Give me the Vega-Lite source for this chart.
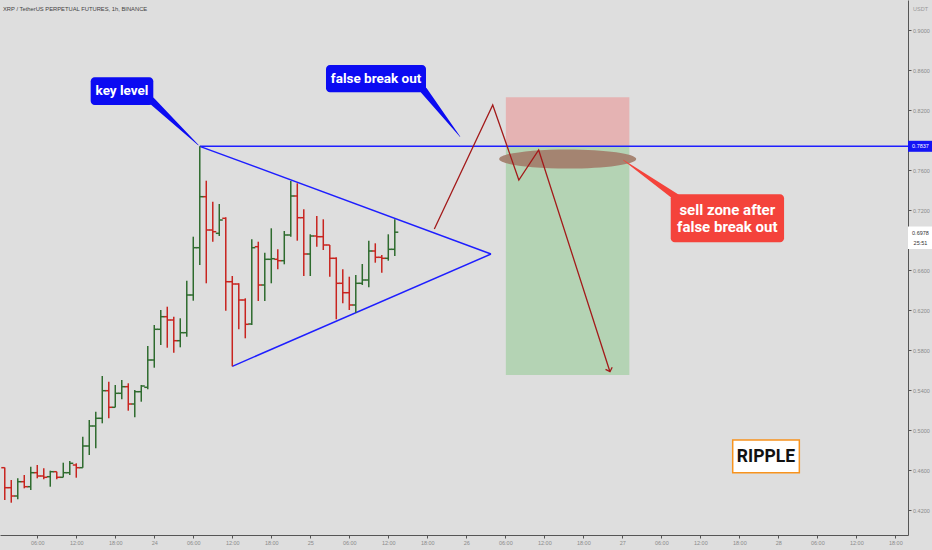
{
  "$schema": "https://vega.github.io/schema/vega-lite/v6.json",
  "width": 908,
  "height": 535,
  "autosize": "none",
  "padding": {"left": 0, "top": 0, "right": 24, "bottom": 15},
  "background": "#dedede",
  "title": {"text": "XRP / TetherUS PERPETUAL FUTURES, 1h, BINANCE", "anchor": "start", "frame": "group", "fontSize": 5.8, "fontWeight": "normal", "color": "#444444", "font": "Liberation Sans", "offset": 0, "dx": 3, "dy": 12},
  "config": {"view": {"stroke": null}, "axis": {"grid": false}},
  "datasets": {
    "candles": [
      {"t": "2020-11-23T01:00:00Z", "o": 0.4623, "h": 0.4625, "l": 0.4300, "c": 0.4423},
      {"t": "2020-11-23T02:00:00Z", "o": 0.4423, "h": 0.4500, "l": 0.4273, "c": 0.4340},
      {"t": "2020-11-23T03:00:00Z", "o": 0.4340, "h": 0.4517, "l": 0.4307, "c": 0.4483},
      {"t": "2020-11-23T04:00:00Z", "o": 0.4483, "h": 0.4550, "l": 0.4417, "c": 0.4433},
      {"t": "2020-11-23T05:00:00Z", "o": 0.4433, "h": 0.4633, "l": 0.4400, "c": 0.4573},
      {"t": "2020-11-23T06:00:00Z", "o": 0.4573, "h": 0.4650, "l": 0.4517, "c": 0.4540},
      {"t": "2020-11-23T07:00:00Z", "o": 0.4540, "h": 0.4617, "l": 0.4507, "c": 0.4527},
      {"t": "2020-11-23T08:00:00Z", "o": 0.4533, "h": 0.4593, "l": 0.4433, "c": 0.4583},
      {"t": "2020-11-23T09:00:00Z", "o": 0.4583, "h": 0.4583, "l": 0.4507, "c": 0.4527},
      {"t": "2020-11-23T10:00:00Z", "o": 0.4527, "h": 0.4673, "l": 0.4527, "c": 0.4573},
      {"t": "2020-11-23T11:00:00Z", "o": 0.4573, "h": 0.4690, "l": 0.4550, "c": 0.4667},
      {"t": "2020-11-23T12:00:00Z", "o": 0.4650, "h": 0.4667, "l": 0.4523, "c": 0.4623},
      {"t": "2020-11-23T13:00:00Z", "o": 0.4623, "h": 0.4933, "l": 0.4623, "c": 0.4840},
      {"t": "2020-11-23T14:00:00Z", "o": 0.4840, "h": 0.5100, "l": 0.4750, "c": 0.5040},
      {"t": "2020-11-23T15:00:00Z", "o": 0.5040, "h": 0.5183, "l": 0.4817, "c": 0.5117},
      {"t": "2020-11-23T16:00:00Z", "o": 0.5117, "h": 0.5540, "l": 0.5067, "c": 0.5393},
      {"t": "2020-11-23T17:00:00Z", "o": 0.5393, "h": 0.5483, "l": 0.5117, "c": 0.5227},
      {"t": "2020-11-23T18:00:00Z", "o": 0.5227, "h": 0.5450, "l": 0.5227, "c": 0.5367},
      {"t": "2020-11-23T19:00:00Z", "o": 0.5367, "h": 0.5500, "l": 0.5307, "c": 0.5433},
      {"t": "2020-11-23T20:00:00Z", "o": 0.5433, "h": 0.5467, "l": 0.5193, "c": 0.5260},
      {"t": "2020-11-23T21:00:00Z", "o": 0.5260, "h": 0.5400, "l": 0.5127, "c": 0.5383},
      {"t": "2020-11-23T22:00:00Z", "o": 0.5383, "h": 0.5450, "l": 0.5283, "c": 0.5440},
      {"t": "2020-11-23T23:00:00Z", "o": 0.5427, "h": 0.5840, "l": 0.5407, "c": 0.5700},
      {"t": "2020-11-24T00:00:00Z", "o": 0.5700, "h": 0.6050, "l": 0.5623, "c": 0.6007},
      {"t": "2020-11-24T01:00:00Z", "o": 0.6007, "h": 0.6200, "l": 0.5850, "c": 0.6133},
      {"t": "2020-11-24T02:00:00Z", "o": 0.6133, "h": 0.6233, "l": 0.5823, "c": 0.6100},
      {"t": "2020-11-24T03:00:00Z", "o": 0.6100, "h": 0.6133, "l": 0.5773, "c": 0.5893},
      {"t": "2020-11-24T04:00:00Z", "o": 0.5893, "h": 0.6117, "l": 0.5827, "c": 0.5973},
      {"t": "2020-11-24T05:00:00Z", "o": 0.5973, "h": 0.6493, "l": 0.5933, "c": 0.6350},
      {"t": "2020-11-24T06:00:00Z", "o": 0.6350, "h": 0.6933, "l": 0.6293, "c": 0.6823},
      {"t": "2020-11-24T07:00:00Z", "o": 0.6823, "h": 0.7837, "l": 0.6650, "c": 0.7333},
      {"t": "2020-11-24T08:00:00Z", "o": 0.7333, "h": 0.7493, "l": 0.6467, "c": 0.7000},
      {"t": "2020-11-24T09:00:00Z", "o": 0.7000, "h": 0.7283, "l": 0.6883, "c": 0.6983},
      {"t": "2020-11-24T10:00:00Z", "o": 0.6967, "h": 0.7260, "l": 0.6940, "c": 0.7100},
      {"t": "2020-11-24T11:00:00Z", "o": 0.7117, "h": 0.7127, "l": 0.6193, "c": 0.6483},
      {"t": "2020-11-24T12:00:00Z", "o": 0.6483, "h": 0.6540, "l": 0.5637, "c": 0.6460},
      {"t": "2020-11-24T13:00:00Z", "o": 0.6460, "h": 0.6467, "l": 0.6007, "c": 0.6300},
      {"t": "2020-11-24T14:00:00Z", "o": 0.6300, "h": 0.6317, "l": 0.5917, "c": 0.6057},
      {"t": "2020-11-24T15:00:00Z", "o": 0.6060, "h": 0.6907, "l": 0.6050, "c": 0.6823},
      {"t": "2020-11-24T16:00:00Z", "o": 0.6833, "h": 0.6883, "l": 0.6290, "c": 0.6450},
      {"t": "2020-11-24T17:00:00Z", "o": 0.6450, "h": 0.6773, "l": 0.6290, "c": 0.6707},
      {"t": "2020-11-24T18:00:00Z", "o": 0.6707, "h": 0.7017, "l": 0.6467, "c": 0.6713},
      {"t": "2020-11-24T19:00:00Z", "o": 0.6707, "h": 0.6807, "l": 0.6607, "c": 0.6693},
      {"t": "2020-11-24T20:00:00Z", "o": 0.6693, "h": 0.6990, "l": 0.6657, "c": 0.6950},
      {"t": "2020-11-24T21:00:00Z", "o": 0.6950, "h": 0.7490, "l": 0.6933, "c": 0.7340},
      {"t": "2020-11-24T22:00:00Z", "o": 0.7340, "h": 0.7467, "l": 0.6893, "c": 0.7123},
      {"t": "2020-11-24T23:00:00Z", "o": 0.7123, "h": 0.7207, "l": 0.6540, "c": 0.6760},
      {"t": "2020-11-25T00:00:00Z", "o": 0.6760, "h": 0.6957, "l": 0.6540, "c": 0.6940},
      {"t": "2020-11-25T01:00:00Z", "o": 0.6940, "h": 0.7140, "l": 0.6833, "c": 0.6933},
      {"t": "2020-11-25T02:00:00Z", "o": 0.6933, "h": 0.7107, "l": 0.6800, "c": 0.6850},
      {"t": "2020-11-25T03:00:00Z", "o": 0.6850, "h": 0.6850, "l": 0.6533, "c": 0.6717},
      {"t": "2020-11-25T04:00:00Z", "o": 0.6717, "h": 0.6727, "l": 0.6107, "c": 0.6467},
      {"t": "2020-11-25T05:00:00Z", "o": 0.6467, "h": 0.6607, "l": 0.6267, "c": 0.6373},
      {"t": "2020-11-25T06:00:00Z", "o": 0.6373, "h": 0.6533, "l": 0.6200, "c": 0.6250},
      {"t": "2020-11-25T07:00:00Z", "o": 0.6250, "h": 0.6550, "l": 0.6173, "c": 0.6467},
      {"t": "2020-11-25T08:00:00Z", "o": 0.6467, "h": 0.6660, "l": 0.6450, "c": 0.6500},
      {"t": "2020-11-25T09:00:00Z", "o": 0.6500, "h": 0.6893, "l": 0.6427, "c": 0.6790},
      {"t": "2020-11-25T10:00:00Z", "o": 0.6790, "h": 0.6867, "l": 0.6673, "c": 0.6727},
      {"t": "2020-11-25T11:00:00Z", "o": 0.6727, "h": 0.6750, "l": 0.6573, "c": 0.6717},
      {"t": "2020-11-25T12:00:00Z", "o": 0.6717, "h": 0.6957, "l": 0.6693, "c": 0.6807},
      {"t": "2020-11-25T13:00:00Z", "o": 0.6807, "h": 0.7107, "l": 0.6740, "c": 0.6978}
    ],
    "zones": [
      {"kind": "risk", "t1": "2020-11-26T06:05:00Z", "t2": "2020-11-27T01:05:00Z", "p1": 0.8327, "p2": 0.7843},
      {"kind": "reward", "t1": "2020-11-26T06:05:00Z", "t2": "2020-11-27T01:05:00Z", "p1": 0.7843, "p2": 0.5550}
    ],
    "bluelines": [
      {"seg": "key", "t": "2020-11-24T07:00:00Z", "p": 0.7837},
      {"seg": "key", "t": "2020-11-28T19:57:00Z", "p": 0.7837},
      {"seg": "upper", "t": "2020-11-24T07:00:00Z", "p": 0.7837},
      {"seg": "upper", "t": "2020-11-26T03:48:00Z", "p": 0.6760},
      {"seg": "lower", "t": "2020-11-24T12:00:00Z", "p": 0.5637},
      {"seg": "lower", "t": "2020-11-26T03:48:00Z", "p": 0.6760}
    ],
    "path": [
      {"i": 1, "t": "2020-11-25T19:05:00Z", "p": 0.7010},
      {"i": 2, "t": "2020-11-26T04:04:00Z", "p": 0.8250},
      {"i": 3, "t": "2020-11-26T08:05:00Z", "p": 0.7500},
      {"i": 4, "t": "2020-11-26T11:08:00Z", "p": 0.7800},
      {"i": 5, "t": "2020-11-26T22:06:00Z", "p": 0.5583}
    ],
    "arrow": [{"t": "2020-11-26T22:06:00Z", "p": 0.5583}],
    "ellipse": [{"t": "2020-11-26T15:36:00Z", "p": 0.7710}],
    "tails": [
      {"id": "key", "t": "2020-11-23T23:39:00Z", "p": 0.8290, "w": 1},
      {"id": "key", "t": "2020-11-24T06:46:00Z", "p": 0.7850, "w": 0},
      {"id": "false", "t": "2020-11-25T17:29:00Z", "p": 0.8395, "w": 1},
      {"id": "false", "t": "2020-11-25T23:02:00Z", "p": 0.7933, "w": 0},
      {"id": "sell", "t": "2020-11-27T08:16:00Z", "p": 0.7330, "w": 1},
      {"id": "sell", "t": "2020-11-27T00:09:00Z", "p": 0.7700, "w": 0}
    ],
    "boxes": [
      {"id": "key", "t1": "2020-11-23T14:13:00Z", "t2": "2020-11-23T23:51:00Z", "p1": 0.8527, "p2": 0.8250},
      {"id": "false", "t1": "2020-11-25T02:25:00Z", "t2": "2020-11-25T17:48:00Z", "p1": 0.8650, "p2": 0.8377},
      {"id": "sell", "t1": "2020-11-27T07:27:00Z", "t2": "2020-11-28T00:53:00Z", "p1": 0.7357, "p2": 0.6877}
    ],
    "texts": [
      {"id": "key", "text": "key level", "t": "2020-11-23T19:02:00Z", "p": 0.8390},
      {"id": "false", "text": "false break out", "t": "2020-11-25T10:07:00Z", "p": 0.8513},
      {"id": "sell", "text": "sell zone after", "t": "2020-11-27T16:09:00Z", "p": 0.7203},
      {"id": "sell", "text": "false break out", "t": "2020-11-27T16:09:00Z", "p": 0.7027}
    ],
    "ripplebox": [{"t1": "2020-11-27T16:59:00Z", "t2": "2020-11-28T03:14:00Z", "p1": 0.4900, "p2": 0.4573}],
    "rippletext": [{"text": "RIPPLE", "t": "2020-11-27T22:06:00Z", "p": 0.4735}],
    "pricebox": [
      {"id": "last", "t1": "2020-11-28T19:57:00Z", "t2": "2020-11-28T23:50:00Z", "p1": 0.7892, "p2": 0.7782},
      {"id": "now", "t1": "2020-11-28T19:57:00Z", "t2": "2020-11-28T23:50:00Z", "p1": 0.7035, "p2": 0.6810}
    ],
    "pricetext": [
      {"id": "last", "text": "0.7837", "t": "2020-11-28T21:52:00Z", "p": 0.7837},
      {"id": "now", "text": "0.6978", "t": "2020-11-28T21:52:00Z", "p": 0.6975},
      {"id": "now", "text": "25:51", "t": "2020-11-28T21:52:00Z", "p": 0.6867}
    ]
  },
  "layer": [
    {
      "data": {"name": "zones"},
      "mark": {"type": "rect"},
      "encoding": {
        "x": {"field": "t1", "type": "temporal",
          "scale": {"type": "utc", "domain": [{"year": 2020, "month": 11, "date": 23, "hours": 0, "minutes": 16, "utc": true}, {"year": 2020, "month": 11, "date": 28, "hours": 19, "minutes": 57, "utc": true}]},
          "axis": {"title": "", "orient": "bottom",
            "values": [
              {"year": 2020, "month": 11, "date": 23, "hours": 6, "utc": true},
              {"year": 2020, "month": 11, "date": 23, "hours": 12, "utc": true},
              {"year": 2020, "month": 11, "date": 23, "hours": 18, "utc": true},
              {"year": 2020, "month": 11, "date": 24, "hours": 0, "utc": true},
              {"year": 2020, "month": 11, "date": 24, "hours": 6, "utc": true},
              {"year": 2020, "month": 11, "date": 24, "hours": 12, "utc": true},
              {"year": 2020, "month": 11, "date": 24, "hours": 18, "utc": true},
              {"year": 2020, "month": 11, "date": 25, "hours": 0, "utc": true},
              {"year": 2020, "month": 11, "date": 25, "hours": 6, "utc": true},
              {"year": 2020, "month": 11, "date": 25, "hours": 12, "utc": true},
              {"year": 2020, "month": 11, "date": 25, "hours": 18, "utc": true},
              {"year": 2020, "month": 11, "date": 26, "hours": 0, "utc": true},
              {"year": 2020, "month": 11, "date": 26, "hours": 6, "utc": true},
              {"year": 2020, "month": 11, "date": 26, "hours": 12, "utc": true},
              {"year": 2020, "month": 11, "date": 26, "hours": 18, "utc": true},
              {"year": 2020, "month": 11, "date": 27, "hours": 0, "utc": true},
              {"year": 2020, "month": 11, "date": 27, "hours": 6, "utc": true},
              {"year": 2020, "month": 11, "date": 27, "hours": 12, "utc": true},
              {"year": 2020, "month": 11, "date": 27, "hours": 18, "utc": true},
              {"year": 2020, "month": 11, "date": 28, "hours": 0, "utc": true},
              {"year": 2020, "month": 11, "date": 28, "hours": 6, "utc": true},
              {"year": 2020, "month": 11, "date": 28, "hours": 12, "utc": true},
              {"year": 2020, "month": 11, "date": 28, "hours": 18, "utc": true}
            ],
            "labelExpr": "utcFormat(datum.value, '%H:%M') == '00:00' ? utcFormat(datum.value, '%d') : utcFormat(datum.value, '%H:%M')",
            "domainColor": "#555555", "domainWidth": 1, "tickColor": "#555555", "tickSize": 3, "labelFontSize": 5.5, "labelColor": "#8a8a8a", "labelPadding": 2, "labelFlush": false, "labelOverlap": false, "labelFont": "Liberation Sans"}},
        "x2": {"field": "t2"},
        "y": {"field": "p1", "type": "quantitative",
          "scale": {"domain": [0.395, 0.93], "zero": false, "nice": false},
          "axis": {"title": "USDT", "orient": "right", "titleAngle": 0, "titleX": 12, "titleY": 8, "titleAlign": "center", "titleBaseline": "middle", "titleFontSize": 5.5, "titleFontWeight": "normal", "titleColor": "#999999", "titleFont": "Liberation Sans",
            "values": [0.42, 0.44, 0.46, 0.48, 0.5, 0.52, 0.54, 0.56, 0.58, 0.6, 0.62, 0.64, 0.66, 0.68, 0.72, 0.74, 0.76, 0.8, 0.82, 0.84, 0.86, 0.88, 0.9],
            "format": ".4f", "domainColor": "#555555", "tickColor": "#555555", "tickSize": 3, "labelFontSize": 5.5, "labelColor": "#8a8a8a", "labelPadding": 1.5, "labelFont": "Liberation Sans"}},
        "y2": {"field": "p2"},
        "color": {"condition": {"test": "datum.kind == 'risk'", "value": "#e5b3b3"}, "value": "#b4d3b4"}
      }
    },
    {
      "data": {"name": "bluelines"},
      "mark": {"type": "line", "strokeWidth": 1.4, "color": "#1e1eff"},
      "encoding": {
        "x": {"field": "t", "type": "temporal"},
        "y": {"field": "p", "type": "quantitative"},
        "detail": {"field": "seg", "type": "nominal"}
      }
    },
    {
      "data": {"name": "candles"},
      "mark": {"type": "rule", "strokeWidth": 1.5},
      "encoding": {
        "x": {"field": "t", "type": "temporal"},
        "y": {"field": "l", "type": "quantitative"},
        "y2": {"field": "h"},
        "color": {"condition": {"test": "datum.c >= datum.o", "value": "#2e6b2e"}, "value": "#c8241f"}
      }
    },
    {
      "data": {"name": "candles"},
      "mark": {"type": "point", "shape": "M -1 0 L 0 0", "size": 49, "filled": false, "strokeWidth": 1.5, "opacity": 1},
      "encoding": {
        "x": {"field": "t", "type": "temporal"},
        "y": {"field": "o", "type": "quantitative"},
        "color": {"condition": {"test": "datum.c >= datum.o", "value": "#2e6b2e"}, "value": "#c8241f"}
      }
    },
    {
      "data": {"name": "candles"},
      "mark": {"type": "point", "shape": "M 0 0 L 1 0", "size": 49, "filled": false, "strokeWidth": 1.5, "opacity": 1},
      "encoding": {
        "x": {"field": "t", "type": "temporal"},
        "y": {"field": "c", "type": "quantitative"},
        "color": {"condition": {"test": "datum.c >= datum.o", "value": "#2e6b2e"}, "value": "#c8241f"}
      }
    },
    {
      "data": {"name": "ellipse"},
      "mark": {"type": "point", "shape": "M -1 0 C -1 -0.077 -0.552 -0.14 0 -0.14 C 0.552 -0.14 1 -0.077 1 0 C 1 0.077 0.552 0.14 0 0.14 C -0.552 0.14 -1 0.077 -1 0 Z", "size": 18769, "filled": true, "color": "#a3806e", "opacity": 0.95, "strokeWidth": 0},
      "encoding": {
        "x": {"field": "t", "type": "temporal"},
        "y": {"field": "p", "type": "quantitative"}
      }
    },
    {
      "data": {"name": "path"},
      "mark": {"type": "line", "strokeWidth": 1.3, "color": "#a31a1a"},
      "encoding": {
        "x": {"field": "t", "type": "temporal"},
        "y": {"field": "p", "type": "quantitative"},
        "order": {"field": "i", "type": "quantitative"}
      }
    },
    {
      "data": {"name": "arrow"},
      "mark": {"type": "point", "shape": "M -1 -1 L 0 0 L 1 -1", "size": 49, "filled": false, "strokeWidth": 1.3, "color": "#a31a1a", "opacity": 1, "angle": -18},
      "encoding": {
        "x": {"field": "t", "type": "temporal"},
        "y": {"field": "p", "type": "quantitative"}
      }
    },
    {
      "data": {"name": "tails"},
      "mark": {"type": "trail"},
      "encoding": {
        "x": {"field": "t", "type": "temporal"},
        "y": {"field": "p", "type": "quantitative"},
        "detail": {"field": "id", "type": "nominal"},
        "size": {"field": "w", "type": "quantitative", "scale": {"domain": [0, 1], "range": [0.4, 7]}, "legend": null},
        "color": {"condition": {"test": "datum.id == 'sell'", "value": "#f4433b"}, "value": "#0b0bf2"}
      }
    },
    {
      "data": {"name": "boxes"},
      "mark": {"type": "rect", "cornerRadius": 4},
      "encoding": {
        "x": {"field": "t1", "type": "temporal"},
        "x2": {"field": "t2"},
        "y": {"field": "p1", "type": "quantitative"},
        "y2": {"field": "p2"},
        "color": {"condition": {"test": "datum.id == 'sell'", "value": "#f4433b"}, "value": "#0b0bf2"}
      }
    },
    {
      "data": {"name": "texts"},
      "mark": {"type": "text", "font": "Roboto", "fontWeight": "bold", "color": "#ffffff", "align": "center", "baseline": "middle"},
      "encoding": {
        "x": {"field": "t", "type": "temporal"},
        "y": {"field": "p", "type": "quantitative"},
        "text": {"field": "text", "type": "nominal"},
        "size": {"condition": {"test": "datum.id == 'sell'", "value": 15}, "value": 13.5}
      }
    },
    {
      "data": {"name": "ripplebox"},
      "mark": {"type": "rect", "fill": "#ffffff", "stroke": "#f7931e", "strokeWidth": 1.5},
      "encoding": {
        "x": {"field": "t1", "type": "temporal"},
        "x2": {"field": "t2"},
        "y": {"field": "p1", "type": "quantitative"},
        "y2": {"field": "p2"}
      }
    },
    {
      "data": {"name": "rippletext"},
      "mark": {"type": "text", "font": "Roboto", "fontWeight": "bold", "fontSize": 17.5, "color": "#111111", "align": "center", "baseline": "middle"},
      "encoding": {
        "x": {"field": "t", "type": "temporal"},
        "y": {"field": "p", "type": "quantitative"},
        "text": {"field": "text", "type": "nominal"}
      }
    },
    {
      "data": {"name": "pricebox"},
      "mark": {"type": "rect", "clip": false},
      "encoding": {
        "x": {"field": "t1", "type": "temporal"},
        "x2": {"field": "t2"},
        "y": {"field": "p1", "type": "quantitative"},
        "y2": {"field": "p2"},
        "color": {"condition": {"test": "datum.id == 'last'", "value": "#1414f5"}, "value": "#ffffff"}
      }
    },
    {
      "data": {"name": "pricetext"},
      "mark": {"type": "text", "clip": false, "font": "Liberation Sans", "fontSize": 5.5, "align": "center", "baseline": "middle"},
      "encoding": {
        "x": {"field": "t", "type": "temporal"},
        "y": {"field": "p", "type": "quantitative"},
        "text": {"field": "text", "type": "nominal"},
        "color": {"condition": {"test": "datum.id == 'last'", "value": "#ffffff"}, "value": "#333333"}
      }
    }
  ]
}
